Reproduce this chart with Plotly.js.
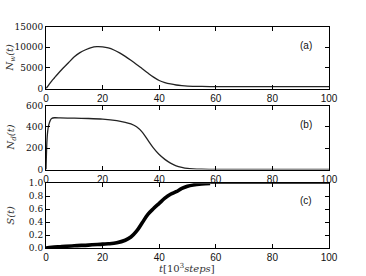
<!DOCTYPE html>
<html>
<head>
<meta charset="utf-8">
<script src="https://cdn.plot.ly/plotly-3.0.1.min.js"></script>
<style>html,body{margin:0;padding:0;background:#fff;}#chart{width:366px;height:276px;}</style>
</head>
<body>
<div id="chart"></div>
<script>
// time in 10^3 steps
const tA = [0,1,2,3,4,6,8,10,12,14,16,18,20,22,24,26,28,30,32,34,36,38,40,42,44,46,48,50,55,60,70,80,90,100];
const Nw = [0,900,1800,2600,3400,4900,6300,7700,8700,9400,9950,10150,10100,9850,9350,8650,7800,6850,5850,4800,3750,2750,1950,1450,1100,850,700,600,500,460,450,450,450,450];

const tB = [0,0.3,0.6,1,1.5,2,3,5,10,15,20,25,28,30,32,34,36,38,40,42,44,46,48,50,52,55,60,70,80,100];
const Nd = [0,250,360,420,460,478,485,484,481,478,472,458,442,428,400,350,275,200,140,95,60,35,20,10,6,3,1,0,0,0];

// S(t): noisy, thick part while rising; saturated part at 1.0
const tC = [0,2,5,10,15,20,22,25,28,30,32,34,36,38,40,42,44,46,48,50,52,55,58];
const S  = [0,0.01,0.02,0.035,0.045,0.06,0.065,0.08,0.12,0.17,0.26,0.39,0.52,0.61,0.69,0.77,0.83,0.87,0.92,0.955,0.975,0.99,0.998];
const tCsat = [58,60,70,80,90,100];
const Ssat  = [0.998,1.0,1.0,1.0,1.0,1.0];

const xTicks = [0,20,40,60,80,100];
const yTicksA = [0,5000,10000,15000];
const yTicksB = [0,200,400,600];
const yTicksC = [0,0.2,0.4,0.6,0.8,1.0];

const panelLabels = ['(a)','(b)','(c)'];
const yTitles = ['<i>N<sub>w</sub>(t)</i>','<i>N<sub>d</sub>(t)</i>','<i>S(t)</i>'];

const lineCol = '#222';
const traces = [
  {x:tA, y:Nw, xaxis:'x', yaxis:'y', mode:'lines', line:{color:lineCol, width:1.3, shape:'spline', smoothing:0.8}, hoverinfo:'skip'},
  {x:tB, y:Nd, xaxis:'x2', yaxis:'y2', mode:'lines', line:{color:lineCol, width:1.3, shape:'spline', smoothing:0.6}, hoverinfo:'skip'},
  {x:tC, y:S, xaxis:'x3', yaxis:'y3', mode:'lines', line:{color:'#000', width:3.6, shape:'spline'}, hoverinfo:'skip'},
  {x:tCsat, y:Ssat, xaxis:'x3', yaxis:'y3', mode:'lines', line:{color:'#000', width:1.2}, hoverinfo:'skip'}
];

const xdom = [46/366, 329/366];
const doms = [[1-88.5/276, 1-26.7/276],[1-169.5/276, 1-105.5/276],[1-248/276, 1-183.3/276]];
const sansFont = {family:'Liberation Sans, Arial, sans-serif', size:10, color:'#111'};
const serifFont = {family:'DejaVu Serif, Liberation Serif, serif', size:9, color:'#111'};

function xax(anchor){
  return {domain:xdom, range:[0,100], anchor:anchor, tickvals:xTicks, ticks:'inside', ticklen:4, tickcolor:'#000',
    showline:true, linecolor:'#000', linewidth:1, mirror:'ticks', showgrid:false, zeroline:false,
    tickfont:sansFont, fixedrange:true};
}
function yax(anchor, dom, range, vals, fmt){
  return {domain:dom, range:range, anchor:anchor, tickvals:vals, tickformat:fmt, ticks:'inside', ticklen:4, tickcolor:'#000',
    showline:true, linecolor:'#000', linewidth:1, mirror:'ticks', showgrid:false, zeroline:false,
    tickfont:serifFont, fixedrange:true};
}

const annotations = [];
const labelY = [46, 124, 200];
for (let i=0;i<3;i++){
  annotations.push({xref:'paper', yref:'paper', x:306/366, y:1-labelY[i]/276, text:panelLabels[i], showarrow:false,
    font:{family:'Liberation Sans, Arial, sans-serif', size:10, color:'#111'}, xanchor:'center', yanchor:'middle'});
  annotations.push({xref:'paper', yref:'paper', x:11/366, y:(doms[i][0]+doms[i][1])/2, text:yTitles[i], showarrow:false, textangle:-90,
    font:{family:'DejaVu Serif, Liberation Serif, serif', size:10, color:'#333'}, xanchor:'center', yanchor:'middle'});
}
annotations.push({xref:'paper', yref:'paper', x:187/366, y:1-267.5/276, text:'<i>t</i>[10<sup>3</sup><i>steps</i>]', showarrow:false,
  font:{family:'DejaVu Serif, Liberation Serif, serif', size:10, color:'#333'}, xanchor:'center', yanchor:'middle'});

const layout = {
  width:366, height:276, margin:{l:0,r:0,t:0,b:0}, showlegend:false,
  paper_bgcolor:'#fff', plot_bgcolor:'#fff',
  xaxis: xax('y'), xaxis2: xax('y2'), xaxis3: xax('y3'),
  yaxis: yax('x', doms[0], [0,15000], yTicksA, 'd'),
  yaxis2: yax('x2', doms[1], [0,600], yTicksB, 'd'),
  yaxis3: yax('x3', doms[2], [0,1.0], yTicksC, '.1f'),
  annotations: annotations
};

Plotly.newPlot('chart', traces, layout, {displayModeBar:false, staticPlot:true});
</script>
</body>
</html>
